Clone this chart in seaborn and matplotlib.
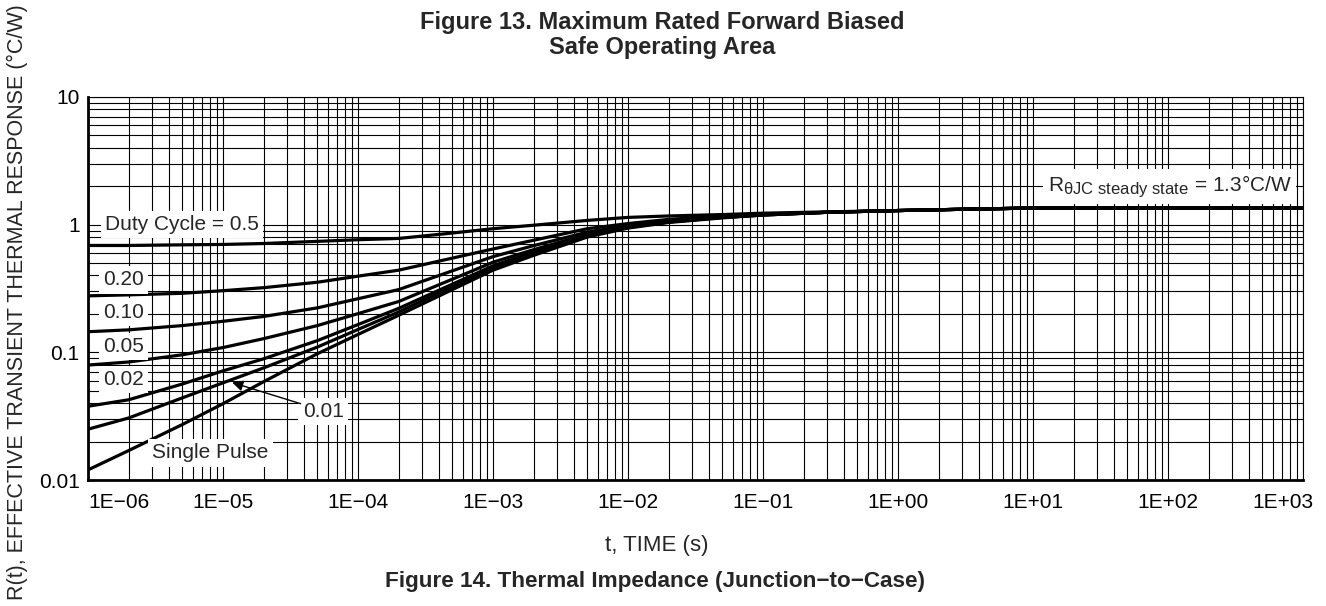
import matplotlib
matplotlib.use("Agg")
import matplotlib.pyplot as plt
import matplotlib.transforms as mtransforms
import matplotlib._mathtext as _mt
from matplotlib.ticker import LogLocator, NullFormatter
import numpy as np
import pandas as pd
import seaborn as sns

# ---------------- data ----------------
t = [1e-6, 2e-6, 5e-6, 1e-5, 2e-5, 5e-5, 1e-4, 2e-4, 5e-4, 1e-3, 2e-3,
     5e-3, 1e-2, 2e-2, 5e-2, 1e-1, 3e-1, 1, 3, 10, 100, 1000]

d50 = [0.687, 0.687, 0.695, 0.70, 0.712, 0.74, 0.762, 0.78, 0.86, 0.93, 0.99,
       1.08, 1.14, 1.17, 1.20, 1.23, 1.26, 1.29, 1.32, 1.35, 1.35, 1.35]
d20 = [0.277, 0.282, 0.29, 0.304, 0.321, 0.354, 0.395, 0.44, 0.547, 0.645, 0.755,
       0.93, 1.02, 1.10, 1.17, 1.21, 1.25, 1.29, 1.32, 1.35, 1.35, 1.35]
d10 = [0.145, 0.150, 0.162, 0.175, 0.191, 0.223, 0.263, 0.31, 0.435, 0.562, 0.685,
       0.875, 0.986, 1.07, 1.16, 1.20, 1.25, 1.29, 1.32, 1.35, 1.35, 1.35]
d05 = [0.0795, 0.084, 0.0957, 0.109, 0.128, 0.162, 0.201, 0.25, 0.374, 0.508, 0.637,
       0.84, 0.96, 1.06, 1.15, 1.20, 1.25, 1.29, 1.32, 1.35, 1.35, 1.35]
d02 = [0.0378, 0.0425, 0.0565, 0.0716, 0.089, 0.1235, 0.165, 0.221, 0.342, 0.476, 0.61,
       0.83, 0.955, 1.05, 1.14, 1.19, 1.25, 1.29, 1.32, 1.35, 1.35, 1.35]
d01 = [0.025, 0.0306, 0.044, 0.0577, 0.0755, 0.11, 0.151, 0.207, 0.327, 0.461, 0.596,
       0.82, 0.95, 1.05, 1.14, 1.19, 1.25, 1.29, 1.32, 1.35, 1.35, 1.35]
single = [0.012, 0.017, 0.0272, 0.0396, 0.0589, 0.0975, 0.138, 0.195, 0.31, 0.44, 0.575,
          0.80, 0.94, 1.04, 1.13, 1.19, 1.25, 1.29, 1.32, 1.35, 1.35, 1.35]

curve_names = ["0.5", "0.20", "0.10", "0.05", "0.02", "0.01", "Single Pulse"]
curve_values = [d50, d20, d10, d05, d02, d01, single]

x_tick_values = [1e-6, 1e-5, 1e-4, 1e-3, 1e-2, 1e-1, 1e0, 1e1, 1e2, 1e3]
x_tick_labels = ["1E\u221206", "1E\u221205", "1E\u221204", "1E\u221203", "1E\u221202",
                 "1E\u221201", "1E+00", "1E+01", "1E+02", "1E+03"]
y_tick_values = [0.01, 0.1, 1, 10]
y_tick_labels = ["0.01", "0.1", "1", "10"]

df = pd.DataFrame({
    "t": np.tile(t, len(curve_names)),
    "R": np.concatenate(curve_values),
    "curve": np.repeat(curve_names, len(t)),
})

# ---------------- style ----------------
sns.set_style("white")
plt.rcParams["font.family"] = ["Liberation Sans", "DejaVu Sans"]
plt.rcParams["mathtext.fontset"] = "custom"
plt.rcParams["mathtext.rm"] = "Liberation Sans"
plt.rcParams["mathtext.it"] = "Liberation Sans:italic"
plt.rcParams["mathtext.bf"] = "Liberation Sans:bold"
_mt.SHRINK_FACTOR = 0.8   # larger subscript, as in the reference

FS = 15
W, H = 1326, 606
fig = plt.figure(figsize=(W / 100, H / 100), dpi=100)
ax = fig.add_axes([88 / W, (H - 480) / H, (1303 - 88) / W, (480 - 97) / H])

ax.set_xscale("log")
ax.set_yscale("log")

sns.lineplot(data=df, x="t", y="R", units="curve", estimator=None,
             color="black", lw=2.3, ax=ax, legend=False, zorder=2)

ax.set_xlim(1e-6, 1e3)
ax.set_ylim(0.01, 10)

ax.set_xticks(x_tick_values, x_tick_labels)
ax.set_yticks(y_tick_values, y_tick_labels)
ax.xaxis.set_minor_locator(LogLocator(base=10, subs=np.arange(2, 10), numticks=50))
ax.yaxis.set_minor_locator(LogLocator(base=10, subs=np.arange(2, 10), numticks=50))
ax.xaxis.set_minor_formatter(NullFormatter())
ax.yaxis.set_minor_formatter(NullFormatter())

ax.set_axisbelow(True)
ax.grid(True, which="both", color="black", lw=0.8)
ax.tick_params(which="both", length=0, labelsize=FS, colors="black")
ax.tick_params(axis="x", pad=9)
ax.tick_params(axis="y", pad=6)

for side in ["left", "bottom"]:
    ax.spines[side].set_linewidth(2.0)
for side in ["top", "right"]:
    ax.spines[side].set_linewidth(0.8)
for s in ax.spines.values():
    s.set_color("black")

xl = ax.get_xticklabels()
xl[0].set_ha("left")
xl[-1].set_ha("right")
xl[-1].set_transform(xl[-1].get_transform() +
                     mtransforms.ScaledTranslation(0.10, 0, fig.dpi_scale_trans))

ax.set_xlabel("t, TIME (s)", fontsize=16, va="center")
ax.xaxis.set_label_coords(657 / W, 1 - 545 / H, transform=fig.transFigure)
ax.set_ylabel("")

fig.text(0.013, 0.502, "R(t), EFFECTIVE TRANSIENT THERMAL RESPONSE (\u00b0C/W)",
         rotation=90, ha="center", va="center", fontsize=15.5)

fig.text(662 / W, 1 - 35 / H, "Figure 13. Maximum Rated Forward Biased\nSafe Operating Area",
         ha="center", va="center", fontsize=17, fontweight="bold", linespacing=1.15)
fig.text(655 / W, 1 - 582 / H, "Figure 14. Thermal Impedance (Junction\u2212to\u2212Case)",
         ha="center", va="center", fontsize=16.2, fontweight="bold")

# ---------------- curve labels ----------------
box = dict(facecolor="white", edgecolor="none", pad=3)
ax.text(1.34e-6, 1.0, "Duty Cycle = 0.5", ha="left", va="center", fontsize=FS, bbox=box, zorder=3)
ax.text(1.29e-6, 0.369, "0.20", ha="left", va="center", fontsize=FS, bbox=box, zorder=3)
ax.text(1.29e-6, 0.2065, "0.10", ha="left", va="center", fontsize=FS, bbox=box, zorder=3)
ax.text(1.29e-6, 0.111, "0.05", ha="left", va="center", fontsize=FS, bbox=box, zorder=3)
ax.text(1.29e-6, 0.0612, "0.02", ha="left", va="center", fontsize=FS, bbox=box, zorder=3)
ax.text(3.89e-5, 0.0343, "0.01", ha="left", va="center", fontsize=FS, bbox=box, zorder=3)
ax.text(2.99e-6, 0.0163, "Single Pulse", ha="left", va="center", fontsize=FS, bbox=box, zorder=3)
ax.text(822, 1.99, "R$_{\\mathrm{\u03b8JC\\ steady\\ state}}$ = 1.3\u00b0C/W",
        ha="right", va="center", fontsize=FS, bbox=box, zorder=3)

ax.annotate("", xy=(1.17e-5, 0.058), xytext=(3.76e-5, 0.0396),
            arrowprops=dict(arrowstyle="-|>", color="black", lw=1.0,
                            mutation_scale=16, shrinkA=0, shrinkB=0),
            zorder=4)

fig.savefig("out.png", dpi=100)
